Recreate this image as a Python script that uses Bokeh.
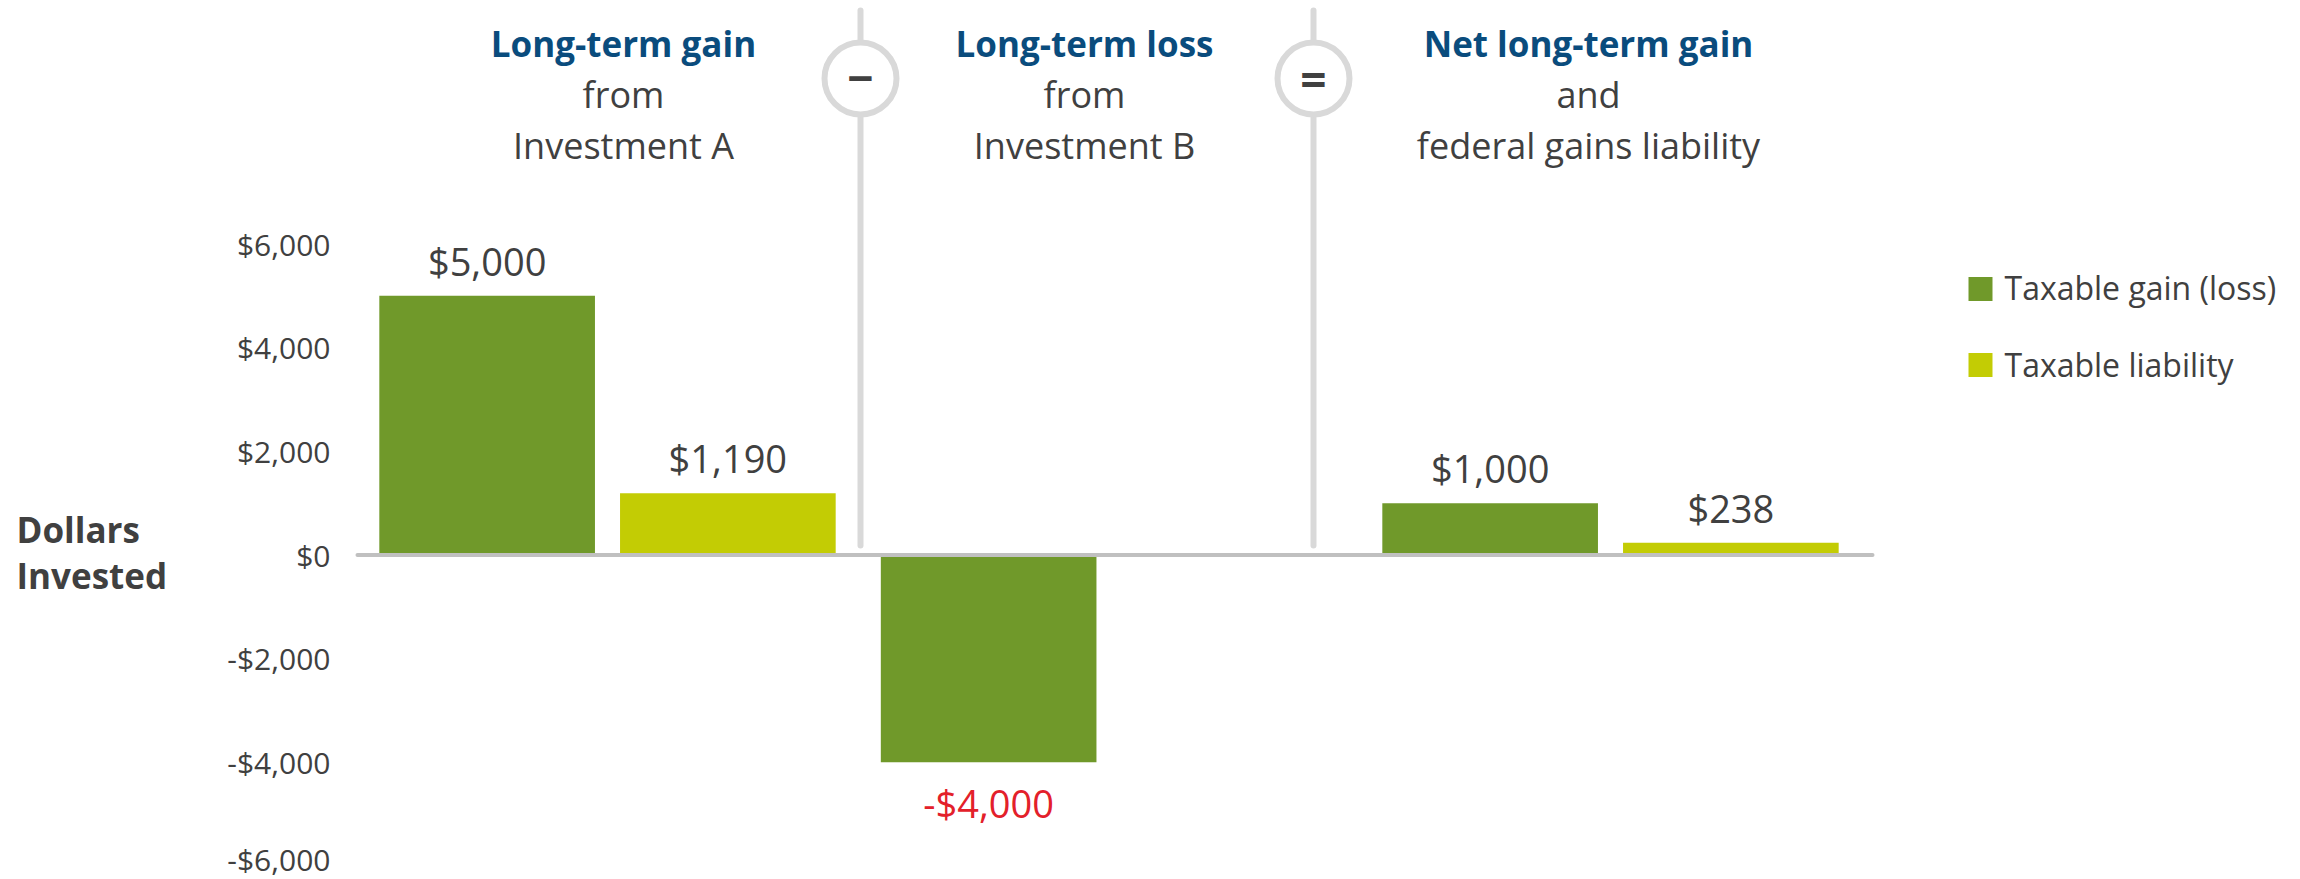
from bokeh.plotting import figure
from bokeh.layouts import row
from bokeh.models import Range1d, FixedTicker
from bokeh.core.properties import value
from bokeh.embed import file_html
from bokeh.resources import INLINE

# ---------------- data ----------------
categories = ["Long-term gain from Investment A",
              "Long-term loss from Investment B",
              "Net long-term gain and federal gains liability"]
title_bold = ["Long-term gain", "Long-term loss", "Net long-term gain"]
title_line2 = ["from", "from", "and"]
title_line3 = ["Investment A", "Investment B", "federal gains liability"]
series_names = ["Taxable gain (loss)", "Taxable liability"]
taxable_gain = [5000, -4000, 1000]
taxable_liability = [1190, None, 238]
operators = ["\u2212", "="]
y_ticks = [-6000, -4000, -2000, 0, 2000, 4000, 6000]
y_tick_labels = ["-$6,000", "-$4,000", "-$2,000", "$0", "$2,000", "$4,000", "$6,000"]
axis_title = ["Dollars", "Invested"]

# ---------------- style / layout ----------------
FONT = "Open Sans"
GREEN = "#70992a"
YELLOW = "#c3cc04"
BLUE = "#0a4c7d"
DARK = "#404040"
RED = "#e3202a"
SEP = "#d9d9d9"

PAGE_W, PAGE_H = 2300, 879
LEFT_W = 200                    # width of the side panel holding the axis title
W, H = PAGE_W - LEFT_W, PAGE_H  # main figure
BORDER_L = 140
FRAME_L = LEFT_W + BORDER_L     # page px of frame left edge
FRAME_T = 0
FRAME_W = W - BORDER_L
FRAME_H = H
X0_PAGE = 607.0                 # page px of first category centre
PX_PER_X = 501.5                # px per category
Y0_PAGE = 554.5                 # page px of y = 0
PX_PER_Y = 0.05183              # px per dollar
DESC = 0.29                     # baseline correction (fraction of font size)


def px_x(page_x):
    return (page_x - X0_PAGE) / PX_PER_X


def px_y(page_y):
    return (Y0_PAGE - page_y) / PX_PER_Y


def base_y(page_y, size):
    # alphabetic baseline at page_y for a font of `size` px
    return px_y(page_y - DESC * size)


x_range = Range1d(px_x(FRAME_L), px_x(FRAME_L + FRAME_W))
y_range = Range1d(px_y(FRAME_T + FRAME_H), px_y(FRAME_T))

p = figure(width=W, height=H, x_range=x_range, y_range=y_range,
           output_backend="svg", toolbar_location=None,
           x_axis_location=None, y_axis_location="left",
           min_border_left=BORDER_L, min_border_right=0,
           min_border_top=0, min_border_bottom=0,
           outline_line_color=None, background_fill_color="white",
           border_fill_color="white")
p.grid.visible = False

yax = p.yaxis[0]
yax.ticker = FixedTicker(ticks=y_ticks)
yax.major_label_overrides = {t: l for t, l in zip(y_ticks, y_tick_labels)}
yax.axis_line_color = None
yax.major_tick_line_color = None
yax.minor_tick_line_color = None
yax.major_tick_out = 0
yax.major_tick_in = 0
yax.major_label_standoff = FRAME_L - 330
yax.major_label_text_font = FONT
yax.major_label_text_font_size = "30px"
yax.major_label_text_color = DARK

GAIN_OFF = -0.24
LIAB_OFF = 0.24
BAR_W = 0.43

idx = list(range(len(categories)))


def money(v):
    return ("-" if v < 0 else "") + "${:,.0f}".format(abs(v))


# separators with operator circles
sep_x = [px_x(860), px_x(1313)]
p.segment(x0=sep_x, y0=[px_y(10)] * 2, x1=sep_x, y1=[px_y(545)] * 2,
          line_color=SEP, line_width=6, line_cap="round")
p.scatter(x=sep_x, y=[px_y(78)] * 2, marker="circle", size=72,
          fill_color="white", line_color=SEP, line_width=6)
p.text(x=sep_x, y=[px_y(78)] * 2, text=operators,
       text_font=value(FONT), text_font_style="bold",
       text_font_size=value("46px"), text_color=DARK,
       text_align="center", text_baseline="middle")

# bars
p.vbar(x=[i + GAIN_OFF for i in idx], top=taxable_gain, bottom=0,
       width=BAR_W, fill_color=GREEN, line_color=None)
li = [i for i in idx if taxable_liability[i] is not None]
p.vbar(x=[i + LIAB_OFF for i in li], top=[taxable_liability[i] for i in li],
       bottom=0, width=BAR_W, fill_color=YELLOW, line_color=None)

# zero line
p.segment(x0=[px_x(357)], y0=[0], x1=[px_x(1872)], y1=[0],
          line_color="#c0c0c0", line_width=4, line_cap="round")

# value labels
LAB_SIZE = 38
PAD_UP = (24 + DESC * LAB_SIZE) / PX_PER_Y
PAD_DN = (52 - DESC * LAB_SIZE) / PX_PER_Y
lab_x, lab_y, lab_t, lab_c = [], [], [], []
for i in idx:
    v = taxable_gain[i]
    lab_x.append(i + GAIN_OFF)
    lab_y.append(v + PAD_UP if v >= 0 else v - PAD_DN)
    lab_t.append(money(v))
    lab_c.append(DARK if v >= 0 else RED)
for i in li:
    v = taxable_liability[i]
    lab_x.append(i + LIAB_OFF)
    lab_y.append(v + PAD_UP if v >= 0 else v - PAD_DN)
    lab_t.append(money(v))
    lab_c.append(DARK if v >= 0 else RED)
p.text(x=lab_x, y=lab_y, text=lab_t, text_color=lab_c,
       text_font=value(FONT), text_font_size=value("%dpx" % LAB_SIZE),
       text_align="center", text_baseline="alphabetic")

# column titles
title_x = [px_x(623), px_x(1084), px_x(1588)]
p.text(x=title_x, y=[base_y(53, 35)] * 3, text=title_bold, text_color=BLUE,
       text_font=value(FONT), text_font_style="bold",
       text_font_size=value("35px"), text_align="center",
       text_baseline="alphabetic")
p.text(x=title_x, y=[base_y(104, 36)] * 3, text=title_line2, text_color=DARK,
       text_font=value(FONT), text_font_size=value("36px"),
       text_align="center", text_baseline="alphabetic")
p.text(x=title_x, y=[base_y(155, 36)] * 3, text=title_line3, text_color=DARK,
       text_font=value(FONT), text_font_size=value("36px"),
       text_align="center", text_baseline="alphabetic")

# legend
LEG_SIZE = 32
leg_y = [px_y(288.5), px_y(364.5)]
p.scatter(x=[px_x(1980)] * 2, y=leg_y, marker="square", size=24,
          fill_color=[GREEN, YELLOW], line_color=None)
p.text(x=[px_x(2004)] * 2, y=[base_y(296, LEG_SIZE), base_y(373, LEG_SIZE)],
       text=series_names, text_color=DARK, text_font=value(FONT),
       text_font_size=value("%dpx" % LEG_SIZE), text_align="left",
       text_baseline="alphabetic")

# side panel with the axis title (pixel coordinates, y downward)
side = figure(width=LEFT_W, height=H, x_range=Range1d(0, LEFT_W),
              y_range=Range1d(H, 0), output_backend="svg",
              toolbar_location=None, x_axis_location=None,
              y_axis_location=None, min_border=0, outline_line_color=None,
              background_fill_color="white", border_fill_color="white")
side.grid.visible = False
side.text(x=[16, 16], y=[539 - DESC * 35, 585 - DESC * 35], text=axis_title,
          text_color=DARK, text_font=value(FONT), text_font_style="bold",
          text_font_size=value("35px"), text_align="left",
          text_baseline="alphabetic")

layout = row(side, p, spacing=0)
open("out.html", "w").write(file_html(layout, INLINE))
